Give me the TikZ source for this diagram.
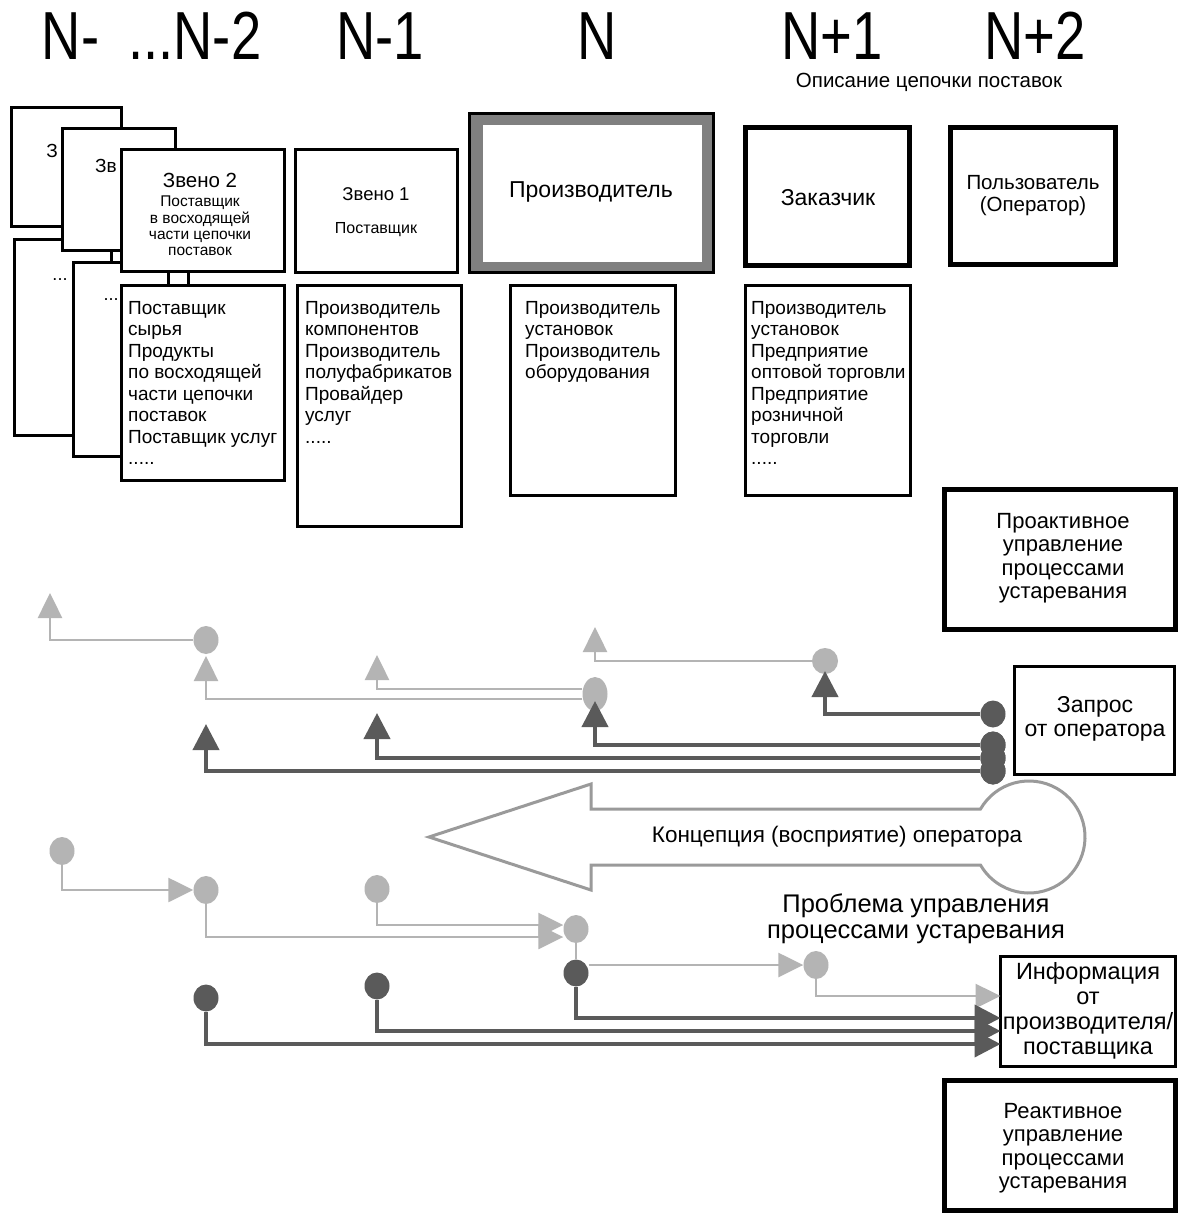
\documentclass[tikz,border=0pt]{standalone}
\usepackage{fontspec}
\setmainfont{Liberation Sans}
\newfontfamily\hdrfont[FakeStretch=0.8]{Liberation Sans}
\usetikzlibrary{arrows.meta,calc,shapes.geometric}
\definecolor{lg}{HTML}{B4B4B4}
\definecolor{dg}{HTML}{5A5A5A}
\definecolor{mg}{HTML}{808080}
\definecolor{ag}{HTML}{9A9A9A}
\begin{document}
\begin{tikzpicture}[x=1pt,y=-1pt,
 bx/.style={draw=black,fill=white,line width=3pt,inner sep=0pt,outer sep=0pt},
 tbx/.style={draw=black,fill=white,line width=5pt,inner sep=0pt,outer sep=0pt},
 hdr/.style={font=\hdrfont\fontsize{68}{68}\selectfont,inner sep=0pt,anchor=base,text depth=0pt},
 lst/.style={font=\fontsize{19}{21.5}\selectfont,align=left,anchor=north west,inner sep=0pt},
 ctr/.style={align=center,inner sep=0pt},
 lc/.style={ellipse,fill=lg,inner sep=0pt,minimum width=25pt,minimum height=28pt},
 dc/.style={ellipse,fill=dg,inner sep=0pt,minimum width=25pt,minimum height=27pt},
 lline/.style={draw=lg,line width=2.5pt},
 dline/.style={draw=dg,line width=4pt},
 ltip/.style={-{Triangle[length=25pt 0,width=24pt 0]}},
 dtip/.style={-{Triangle[length=26pt 0,width=26pt 0]}},
]
\useasboundingbox (0,0) rectangle (1187,1222);
\fill[white] (0,0) rectangle (1187,1222);

% headers
\node[hdr] (hN2) at (151.5,60) {N-\hspace{14pt} ...N-2};
\node[hdr] (hN1) at (380,60) {N-1};
\node[hdr] (hN) at (597,60) {N};
\node[hdr] (hP1) at (832,60) {N+1};
\node[hdr] (hP2) at (1035,60) {N+2};
\node[inner sep=0pt,font=\fontsize{20.5}{20.5}\selectfont] (desc) at (929,82) {Описание цепочки поставок};

% stacked boxes (left)
\node[bx,minimum width=110pt,minimum height=119pt] (b1u) at (66.5,167) {};
\node[inner sep=0pt,font=\fontsize{19}{19}\selectfont] (t1u) at (52,151) {З};
\node[bx,minimum width=114pt,minimum height=196pt] (b1l) at (71.5,337.5) {};
\node[inner sep=0pt,font=\fontsize{18}{18}\selectfont] (t1l) at (60,280) {...};
\node[bx,minimum width=113pt,minimum height=122pt] (b2u) at (119,189.5) {};
\node[inner sep=0pt,font=\fontsize{19}{19}\selectfont] (t2u) at (106,166) {Зв};
\node[bx,minimum width=115pt,minimum height=194pt] (b2l) at (131,359.5) {};
\node[inner sep=0pt,font=\fontsize{18}{18}\selectfont] (t2l) at (111,300) {...};
\draw[line width=3pt] (b2u.south -| 111,0) -- (b2l.north -| 111,0);

% Zveno 2
\node[bx,minimum width=163pt,minimum height=122pt] (z2u) at (203,210.5) {};
\node[ctr,font=\fontsize{20.5}{20.5}\selectfont] (z2t) at (200,180) {Звено 2};
\node[ctr,font=\fontsize{15.5}{16.4}\selectfont] (z2s) at (200,226) {Поставщик\\в восходящей\\части цепочки\\поставок};
\node[bx,minimum width=163pt,minimum height=195pt] (z2l) at (203,383) {};
\draw[line width=3pt] (z2u.south -| 168,0) -- (z2l.north -| 168,0);
\node[lst] (z2x) at (128,301) {Поставщик\\сырья\\Продукты\\по восходящей\\части цепочки\\поставок\\Поставщик услуг\\.....};

% Zveno 1
\node[bx,minimum width=162pt,minimum height=123pt] (z1u) at (376.5,211) {};
\node[ctr,font=\fontsize{18.5}{18.5}\selectfont] (z1t) at (376,194.5) {Звено 1};
\node[ctr,font=\fontsize{16}{16}\selectfont] (z1s) at (376,230) {Поставщик};
\node[bx,minimum width=164pt,minimum height=241pt] (z1l) at (379.5,406) {};
\node[lst] (z1x) at (305,301) {Производитель\\компонентов\\Производитель\\полуфабрикатов\\Провайдер\\услуг\\.....};

% Proizvoditel
\node[draw=black,fill=mg,line width=3pt,inner sep=0pt,outer sep=0pt,minimum width=244pt,minimum height=159pt] (prod) at (591.5,193) {};
\fill[white] ($(prod.south west)+(13,-10)$) rectangle ($(prod.north east)+(-12,12)$);
\node[ctr,font=\fontsize{23}{23}\selectfont] (prodt) at (591,192) {Производитель};
\node[bx,minimum width=165pt,minimum height=210pt] (prl) at (593,390.5) {};
\node[lst] (prx) at (525,301) {Производитель\\установок\\Производитель\\оборудования};

% Zakazchik
\node[tbx,minimum width=164pt,minimum height=138pt] (zak) at (827.5,196.5) {};
\node[ctr,font=\fontsize{23}{23}\selectfont] (zakt) at (828,198) {Заказчик};
\node[bx,minimum width=165pt,minimum height=210pt] (zkl) at (828,390.5) {};
\node[lst] (zkx) at (751,301) {Производитель\\установок\\Предприятие\\оптовой торговли\\Предприятие\\розничной\\торговли\\.....};

% Polzovatel
\node[tbx,minimum width=165pt,minimum height=137pt] (pol) at (1033,196) {};
\node[ctr,font=\fontsize{20.5}{22}\selectfont] (polt) at (1033,196) {Пользователь\\(Оператор)};

% right boxes
\node[tbx,minimum width=231pt,minimum height=140pt] (pro) at (1060,559.5) {};
\node[ctr,font=\fontsize{22}{23.5}\selectfont] (prot) at (1063,558) {Проактивное\\управление\\процессами\\устаревания};
\node[bx,minimum width=160pt,minimum height=108pt] (zap) at (1094.5,720.5) {};
\node[ctr,font=\fontsize{23}{24}\selectfont] (zapt) at (1095,719) {Запрос\\от оператора};
\node[bx,minimum width=175pt,minimum height=110pt] (inf) at (1088,1011.5) {};
\node[ctr,font=\fontsize{23.5}{25}\selectfont] (inft) at (1088,1010.5) {Информация\\от\\производителя/\\поставщика};
\node[tbx,minimum width=231pt,minimum height=130pt] (rea) at (1060,1145.5) {};
\node[ctr,font=\fontsize{22}{23.5}\selectfont] (reat) at (1063,1148) {Реактивное\\управление\\процессами\\устаревания};

% big hollow arrow
\draw[draw=ag,line width=3pt,line join=miter] (429,837) -- (591,784) -- (591,809) -- (980.5,809)
  arc[start angle=210,end angle=510,radius=56] -- (591,865) -- (591,890) -- cycle;
\node[inner sep=0pt,font=\fontsize{22.5}{22.5}\selectfont] (conc) at (837,837) {Концепция (восприятие) оператора};

% upper arrows
\coordinate (t1) at (50,593);
\coordinate (t2) at (206,656);
\coordinate (t3) at (377,655);
\coordinate (t4) at (595,627);
\coordinate (t5) at (825,671);
\coordinate (t6) at (595,701);
\coordinate (t7) at (377,713);
\coordinate (t8) at (206,724);
\node[lc] (C1) at (206,640) {};
\node[lc,minimum height=34pt] (C2) at (595,694) {};
\node[lc,minimum width=26pt,minimum height=26pt] (C3) at (825,661) {};
\draw[lline,ltip] (C1.west) -| (t1);
\draw[lline,ltip] ([yshift=-5pt]C2.west) -| (t2);
\draw[lline,ltip] ([yshift=5pt]C2.west) -| (t3);
\draw[lline,ltip] (C3.west) -| (t4);
\node[dc] (D1) at (993,714) {};
\node[dc] (D2) at (993,745) {};
\node[dc] (D3) at (993,758) {};
\node[dc] (D4) at (993,771) {};
\draw[dline,dtip] (D1.west) -| (t5);
\draw[dline,dtip] (D2.west) -| (t6);
\draw[dline,dtip] (D3.west) -| (t7);
\draw[dline,dtip] (D4.west) -| (t8);
\node[dc] (D2b) at (993,745) {};
\node[dc] (D3b) at (993,758) {};
\node[dc] (D4b) at (993,771) {};

% lower arrows
\node[lc] (E1) at (62,851) {};
\node[lc] (E2) at (206,890) {};
\node[lc] (E3) at (377,889) {};
\node[lc] (E4) at (576,929) {};
\node[dc] (F1) at (576,973) {};
\node[dc] (F2) at (377,986) {};
\node[dc] (F3) at (206,998) {};
\node[lc] (G1) at (816,965) {};
\draw[lline,ltip] (E1.south) |- (E2.west);
\draw[lline,ltip] (E3.south) |- ([yshift=4pt]E4.west);
\draw[lline,ltip] (E2.south) |- ([yshift=-8pt]E4.west);
\draw[lline] (E4.south) -- (F1.north);
\draw[lline,ltip] (G1.west -| F1.east) -- (G1.west);
\draw[lline,ltip] (G1.south) |- (inf.west |- 0,996);
\draw[dline,dtip] (F1.south) |- (inf.west |- 0,1018);
\draw[dline,dtip] (F2.south) |- (inf.west |- 0,1031);
\draw[dline,dtip] (F3.south) |- (inf.west |- 0,1044);

% problem text
\node[ctr,font=\fontsize{25.5}{26}\selectfont] (prob) at (916,919) {Проблема управления\\процессами устаревания};
\end{tikzpicture}
\end{document}
